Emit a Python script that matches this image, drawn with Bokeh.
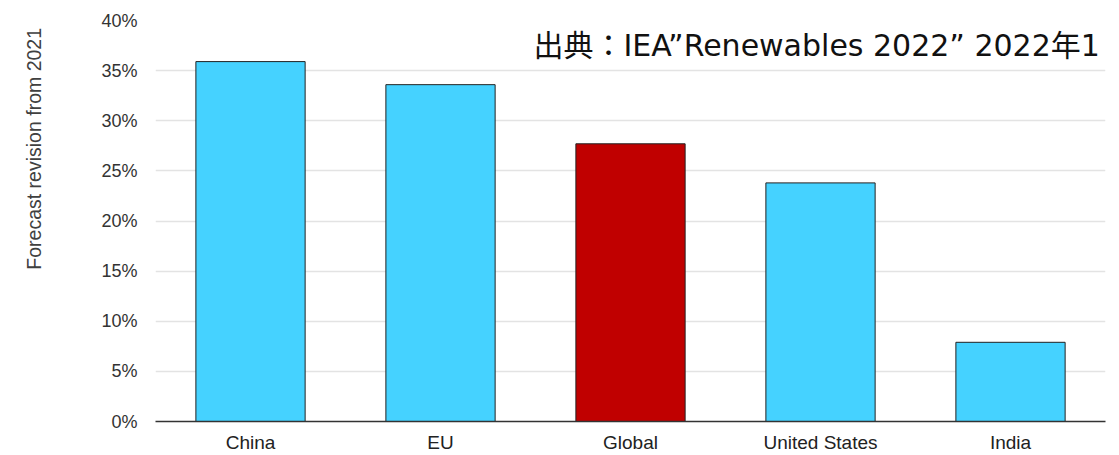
import math
from bokeh.plotting import figure
from bokeh.layouts import row
from bokeh.models import ColumnDataSource, Label, NumeralTickFormatter, SingleIntervalTicker, Range1d
from bokeh.embed import file_html
from bokeh.resources import INLINE

categories = ["China", "EU", "Global", "United States", "India"]
values = [35.9, 33.6, 27.7, 23.8, 7.9]
colors = ["#45D2FF", "#45D2FF", "#C00000", "#45D2FF", "#45D2FF"]
y_label = "Forecast revision from 2021"
source_text = "出典：IEA”Renewables 2022” 2022年1"

LEFT_W = 60

src = ColumnDataSource(dict(cat=categories, val=[v / 100 for v in values], color=colors))

# narrow figure holding the rotated y-axis title
q = figure(x_range=Range1d(0, LEFT_W), y_range=Range1d(0, 0.40), width=LEFT_W, height=455,
           output_backend="svg", toolbar_location=None, x_axis_location=None, y_axis_location=None,
           min_border_left=0, min_border_right=0, min_border_top=20, min_border_bottom=33)
q.outline_line_color = None
q.xgrid.grid_line_color = None
q.ygrid.grid_line_color = None
q.add_layout(Label(x=33, y=0.272, text=y_label, angle=math.pi / 2,
                   text_align="center", text_baseline="middle",
                   text_font="Liberation Sans", text_font_size="19.5px", text_color="#404040"))

p = figure(x_range=categories, y_range=Range1d(0, 0.40), width=1119 - LEFT_W, height=455,
           output_backend="svg", toolbar_location=None,
           min_border_left=155 - LEFT_W, min_border_right=14, min_border_top=20, min_border_bottom=33)
p.outline_line_color = None
p.background_fill_color = "white"

p.vbar(x="cat", top="val", width=0.575, fill_color="color", line_color="#222222",
       line_width=1, source=src)

p.xgrid.grid_line_color = None
p.ygrid.grid_line_color = "#e3e3e3"
p.ygrid.grid_line_width = 1.5

p.yaxis.ticker = SingleIntervalTicker(interval=0.05)
p.yaxis.formatter = NumeralTickFormatter(format="0%")
p.yaxis.axis_line_color = None
p.yaxis.major_tick_line_color = None
p.yaxis.minor_tick_line_color = None
p.yaxis.major_tick_out = 0
p.yaxis.major_tick_in = 0
p.yaxis.major_label_standoff = 14
p.yaxis.major_label_text_font = "Liberation Sans"
p.yaxis.major_label_text_font_size = "18px"
p.yaxis.major_label_text_color = "#333333"

p.xaxis.axis_line_color = "#333333"
p.xaxis.axis_line_width = 1.5
p.xaxis.major_tick_line_color = None
p.xaxis.minor_tick_line_color = None
p.xaxis.major_tick_out = 0
p.xaxis.major_tick_in = 0
p.xaxis.major_label_standoff = 10
p.xaxis.major_label_text_font = "Liberation Sans"
p.xaxis.major_label_text_font_size = "19px"
p.xaxis.major_label_text_color = "#222222"

p.add_layout(Label(x=378, x_units="screen", y=0.3755, text=source_text,
                   text_align="left", text_baseline="alphabetic",
                   text_font="DejaVu Sans, Noto Sans CJK JP", text_font_size="30px",
                   text_color="#111111"))

layout = row(q, p, spacing=0)
open("out.html", "w").write(file_html(layout, INLINE))
